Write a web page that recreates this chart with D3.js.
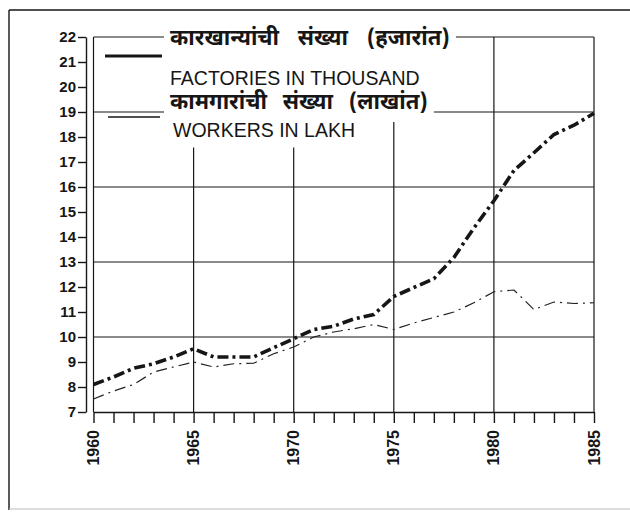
<!DOCTYPE html>
<html>
<head>
<meta charset="utf-8">
<script src="https://cdn.jsdelivr.net/npm/d3@7"></script>
<style>
  html, body { margin: 0; padding: 0; background: #fff; }
  svg { display: block; }
</style>
</head>
<body>
<svg id="chart" width="630" height="512"></svg>
<script>
// ---- data ----
const years = [1960,1961,1962,1963,1964,1965,1966,1967,1968,1969,1970,1971,1972,
               1973,1974,1975,1976,1977,1978,1979,1980,1981,1982,1983,1984,1985];
const factoriesThousand = [8.1,8.4,8.75,8.93,9.2,9.53,9.2,9.2,9.2,9.57,9.93,10.3,10.43,
                           10.72,10.9,11.62,11.98,12.33,13.18,14.36,15.45,16.66,17.37,18.1,18.47,18.95];
const workersLakh = [7.52,7.84,8.1,8.6,8.8,9.0,8.8,8.93,8.95,9.33,9.6,10.0,10.2,
                     10.33,10.5,10.3,10.56,10.78,11.0,11.37,11.81,11.88,11.1,11.4,11.34,11.37];
const yTicks = [7,8,9,10,11,12,13,14,15,16,17,18,19,20,21,22];
const yGrid = [10,13,16,19,22];
const xLabelYears = [1960,1965,1970,1975,1980,1985];
const xGridYears = [1965,1970,1975,1980];
const legendMr = ["कारखान्यांची संख्या (हजारांत)", "कामगारांची संख्या (लाखांत)"];
const legendEn = ["FACTORIES IN THOUSAND", "WORKERS IN LAKH"];

// ---- setup ----
const svg = d3.select("#chart");
const ink = "#161616";
const x = d3.scaleLinear().domain([1960, 1985]).range([93.5, 594]);
const y = d3.scaleLinear().domain([7, 22]).range([412, 37]);

// outer frame (cropped on the right)
svg.append("line").attr("x1", 9).attr("x2", 630).attr("y1", 10).attr("y2", 10)
  .attr("stroke", ink).attr("stroke-width", 1.6);
svg.append("line").attr("x1", 9).attr("x2", 9).attr("y1", 10).attr("y2", 510)
  .attr("stroke", ink).attr("stroke-width", 1.4);
svg.append("line").attr("x1", 9).attr("x2", 630).attr("y1", 509).attr("y2", 509)
  .attr("stroke", "#bbb").attr("stroke-width", 1.2);

// grid
const grid = svg.append("g").attr("stroke", ink).attr("stroke-width", 1.2);
grid.selectAll("line.h").data(yGrid).join("line").attr("class", "h")
  .attr("x1", x(1960)).attr("x2", x(1985))
  .attr("y1", d => y(d)).attr("y2", d => y(d));
grid.selectAll("line.v").data(xGridYears).join("line").attr("class", "v")
  .attr("x1", d => x(d)).attr("x2", d => x(d))
  .attr("y1", y(22)).attr("y2", y(7));
// plot box sides
grid.append("line").attr("x1", x(1960)).attr("x2", x(1960)).attr("y1", y(22)).attr("y2", y(7));
grid.append("line").attr("x1", x(1985)).attr("x2", x(1985)).attr("y1", y(22)).attr("y2", y(7));

// legend area masks (hide vertical grid behind the legend)
svg.append("rect").attr("x", x(1960) + 1.5).attr("y", y(22) + 1.5)
  .attr("width", 375).attr("height", y(19) - y(22) - 3).attr("fill", "#fff");
svg.append("rect").attr("x", x(1960) + 1.5).attr("y", y(19) + 1.5)
  .attr("width", 290).attr("height", 34).attr("fill", "#fff");
svg.append("rect").attr("x", 375).attr("y", y(19) + 1.5)
  .attr("width", 30).attr("height", 7).attr("fill", "#fff");

// y axis
const yAxis = d3.axisLeft(y).tickValues(yTicks).tickSize(8).tickPadding(2).tickSizeOuter(0);
const gy = svg.append("g").attr("transform", "translate(86,0)").call(yAxis);
gy.selectAll("path, line").attr("stroke", ink).attr("stroke-width", 1.4);
gy.selectAll("text").attr("fill", ink)
  .style("font-family", "'Liberation Sans Narrow', 'Liberation Sans', sans-serif")
  .style("font-size", "15px").style("font-weight", "bold");

// x axis
const xAxis = d3.axisBottom(x).tickValues(years).tickSize(11).tickFormat("").tickSizeOuter(0);
const gx = svg.append("g").attr("transform", `translate(0,${y(7)})`).call(xAxis);
gx.selectAll("path, line").attr("stroke", ink).attr("stroke-width", 1.4);
svg.append("g").selectAll("text").data(xLabelYears).join("text")
  .attr("transform", d => `translate(${x(d) + 5.5},${y(7) + 18}) rotate(-90)`)
  .attr("text-anchor", "end")
  .attr("fill", ink)
  .style("font-family", "'Liberation Sans Narrow', 'Liberation Sans', sans-serif")
  .style("font-size", "16px").style("font-weight", "bold")
  .text(d => d);

// series
const line = d3.line().x((d, i) => x(years[i])).y(d => y(d));
svg.append("path").datum(workersLakh).attr("d", line)
  .attr("fill", "none").attr("stroke", "#222").attr("stroke-width", 1.2)
  .attr("stroke-dasharray", "11,5,2,5");
svg.append("path").datum(factoriesThousand).attr("d", line)
  .attr("fill", "none").attr("stroke", ink).attr("stroke-width", 3.6)
  .attr("stroke-dasharray", "11,4,3,4");

// legend
const leg = svg.append("g");
const mrFont = "'Noto Sans Devanagari', 'Noto Serif Devanagari', 'Lohit Devanagari', 'FreeSans', 'Noto Sans', sans-serif";
const enFont = "'Liberation Sans', Arial, sans-serif";
const mrPos = [{x: 170, y: y(22) + 8, ws: 13}, {x: 170, y: y(19) - 3, ws: 10}];
const enPos = [{x: 170, y: 85}, {x: 173, y: 137}];
legendMr.forEach((t, i) => {
  const txt = leg.append("text").attr("x", mrPos[i].x).attr("y", mrPos[i].y)
    .attr("fill", ink).style("font-family", mrFont)
    .style("word-spacing", mrPos[i].ws + "px")
    .style("font-size", "22px").style("font-weight", "bold").text(t);
  const bb = txt.node().getBBox();
  leg.insert("rect", "text").attr("x", bb.x - 6).attr("y", bb.y)
    .attr("width", bb.width + 12).attr("height", bb.height + 4).attr("fill", "#fff");
});
legendEn.forEach((t, i) => {
  leg.append("text").attr("x", enPos[i].x).attr("y", enPos[i].y)
    .attr("fill", ink).style("font-family", enFont)
    .style("font-size", "19.5px").text(t);
});
// legend samples
leg.append("line").attr("x1", 105).attr("x2", 162).attr("y1", 56).attr("y2", 56)
  .attr("stroke", ink).attr("stroke-width", 3.2);
leg.append("line").attr("x1", 108).attr("x2", 160).attr("y1", y(19) + 5).attr("y2", y(19) + 5)
  .attr("stroke", ink).attr("stroke-width", 1.4);
</script>
</body>
</html>
